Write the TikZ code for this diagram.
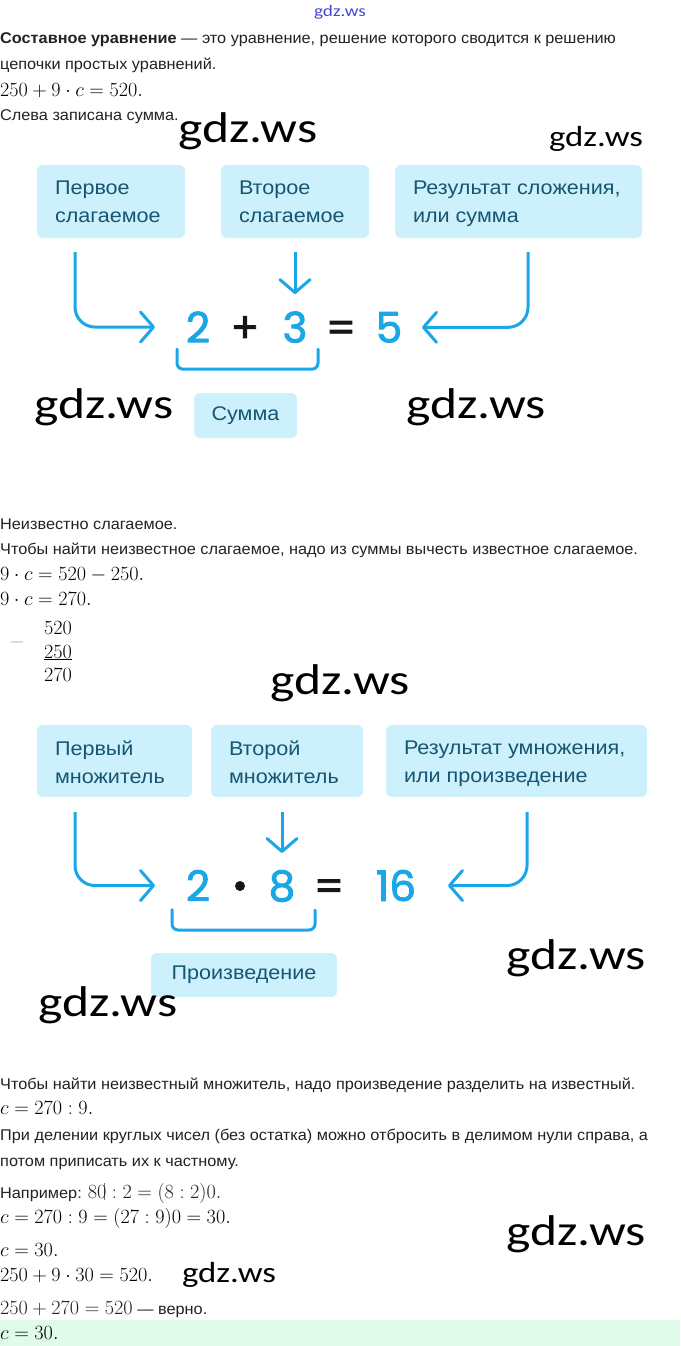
\RequirePackage{fix-cm}
\documentclass[tikz,border=0pt]{standalone}
\usepackage[no-math]{fontspec}
\setmainfont{Liberation Sans}[FakeStretch=1.05]
\newfontfamily\boxfont{Liberation Sans}[FakeStretch=1.09]
\newfontfamily\numfont{Poppins}[FakeBold=2.2]
\newfontfamily\wmfont{Carlito}[FakeStretch=1.2]
\usetikzlibrary{arrows.meta,calc}
\definecolor{boxfill}{RGB}{204,241,252}
\definecolor{boxtext}{RGB}{22,86,112}
\definecolor{accent}{RGB}{27,167,231}
\definecolor{bodytext}{RGB}{34,34,34}
\definecolor{opcol}{RGB}{22,22,22}
\definecolor{okband}{RGB}{224,251,234}
\definecolor{linkblue}{RGB}{70,70,210}
\newcommand\bodyfs{\fontsize{15.5}{18}\selectfont}
\newcommand\mathfs{\fontsize{20.2}{24}\selectfont}
\newcommand\boxfs{\boxfont\fontsize{19.8}{28}\selectfont}
\newcommand\numfs{\numfont\fontsize{42}{46}\selectfont}
\newcommand\wmbig{\wmfont\fontsize{43}{48}\selectfont}
\newcommand\wmsmall{\wmfont\fontsize{29}{32}\selectfont}
\newcommand\wmtiny{\wmfont\fontsize{16}{18}\selectfont}
\tikzset{
  txt/.style={anchor=base west, inner sep=0pt, text=bodytext, font=\bodyfs},
  mth/.style={anchor=base west, inner sep=0pt, text=black, font=\mathfs},
  lbox/.style={fill=boxfill, rounded corners=6pt, inner sep=0pt},
  lbl/.style={anchor=north west, align=left, inner sep=0pt, font=\boxfs, text=boxtext},
  capbox/.style={fill=boxfill, rounded corners=6pt, inner sep=0pt, font=\boxfs, text=boxtext},
  num/.style={anchor=base, text=accent, font=\numfs, inner sep=0pt},
  opn/.style={anchor=base, text=opcol, font=\numfs, inner sep=0pt},
  arr/.style={draw=accent, line width=3pt, rounded corners=20pt,
    -{Straight Barb[length=13pt,width=30pt,round]}},
  brk/.style={draw=accent, line width=3pt, rounded corners=6pt, line cap=round},
  wmb/.style={font=\wmbig, text=black, inner sep=0pt},
  wms/.style={font=\wmsmall, text=black, inner sep=0pt},
}
\begin{document}
\begin{tikzpicture}[x=1pt,y=-1pt]
\useasboundingbox (0,0) rectangle (680,1346);
\fill[white] (0,0) rectangle (680,1346);
\fill[okband] (0,1320) rectangle (680,1346);

% top link
\node[font=\wmtiny, text=linkblue, inner sep=0pt] (wtop) at (340,12) {gdz.ws};

% ---------- section 1 text
\node[txt] (t1) at (0,44) {\textbf{Составное уравнение} — это уравнение, решение которого сводится к решению};
\node[txt] (t2) at (0,70) {цепочки простых уравнений.};
\node[mth] (m1) at (0,96) {$250+9\cdot c=520.$};
\node[txt] (t3) at (0,120) {Слева записана сумма.};

% ---------- diagram 1
\node[lbox, minimum width=148pt, minimum height=73pt] (b1) at (111,201.5) {};
\node[lbox, minimum width=148pt, minimum height=73pt] (b2) at (295,201.5) {};
\node[lbox, minimum width=247pt, minimum height=73pt] (b3) at (518.5,201.5) {};
\node[lbl] (b1t) at ($(b1.north west)+(18,16)$) {Первое\\слагаемое};
\node[lbl] (b2t) at ($(b2.north west)+(18,16)$) {Второе\\слагаемое};
\node[lbl] (b3t) at ($(b3.north west)+(18,16)$) {Результат сложения,\\или сумма};

\node[num] (n2) at (198,342.5) {2};
\node[opn] (np) at (245,342.5) {+};
\node[num] (n3) at (295,342.5) {3};
\node[opn] (ne) at (341,342.5) {=};
\node[num] (n5) at (389,342.5) {5};

\coordinate (a1) at ($(b1.south)+(-36,14)$);
\coordinate (a2) at ($(b2.south)+(0,14)$);
\coordinate (a3) at ($(b3.south)+(9.5,14)$);
\draw[arr] (a1) |- ($(n2.center)+(-43,0)$);
\draw[arr] (a2) -- ($(n3.center)+(0,-33)$);
\draw[arr] (a3) |- ($(n5.center)+(33,0)$);
\draw[brk] ($(n2.center)+(-21,22)$) |- ($(n3.center)+(23,42)$) -- ($(n3.center)+(23,22)$);
\node[capbox, minimum width=103pt, minimum height=45pt] (sum) at (245.5,415.5) {Сумма};

% ---------- section 2 text
\node[txt] (t4) at (0,529) {Неизвестно слагаемое.};
\node[txt] (t5) at (0,554) {Чтобы найти неизвестное слагаемое, надо из суммы вычесть известное слагаемое.};
\node[mth] (m2) at (0,580) {$9\cdot c=520-250.$};
\node[mth] (m3) at (0,605) {$9\cdot c=270.$};
\node[mth, anchor=base east] (c1) at (72,634) {$520$};
\node[mth, anchor=base east] (c2) at (72,658) {$\underline{250}$};
\node[mth, anchor=base east] (c3) at (72,681) {$270$};
\node[mth, anchor=center, text=black!35] (cm) at (17,642) {$-$};

% ---------- diagram 2
\node[lbox, minimum width=155pt, minimum height=72pt] (d1) at (114.5,761) {};
\node[lbox, minimum width=152pt, minimum height=72pt] (d2) at (287,761) {};
\node[lbox, minimum width=261pt, minimum height=72pt] (d3) at (516.5,761) {};
\node[lbl] (d1t) at ($(d1.north west)+(18,16)$) {Первый\\множитель};
\node[lbl] (d2t) at ($(d2.north west)+(18,16)$) {Второй\\множитель};
\node[lbl] (d3t) at ($(d3.north west)+(18,16)$) {Результат умножения,\\или произведение};

\node[num] (k2) at (198,901) {2};
\node[circle, fill=opcol, inner sep=0pt, minimum size=10pt] (kd) at (240,886) {};
\node[num] (k8) at (282,901) {8};
\node[opn] (ke) at (329,901) {=};
\node[num] (k16) at (396,901) {16};

\coordinate (e1) at ($(d1.south)+(-39.5,15)$);
\coordinate (e2) at ($(d2.south)+(-5,15)$);
\coordinate (e3) at ($(d3.south)+(10.5,15)$);
\draw[arr] (e1) |- ($(k2.center)+(-43,0)$);
\draw[arr] (e2) -- ($(k8.center)+(0,-33)$);
\draw[arr] (e3) |- ($(k16.center)+(52,0)$);
\draw[brk] ($(k2.center)+(-26,24)$) |- ($(k8.center)+(33,44)$) -- ($(k8.center)+(33,24)$);
\node[capbox, minimum width=186pt, minimum height=44pt] (prod) at (244,975) {Произведение};

% ---------- section 3 text
\node[txt] (t6) at (0,1089) {Чтобы найти неизвестный множитель, надо произведение разделить на известный.};
\node[mth] (m4) at (0,1114) {$c=270:9.$};
\node[txt] (t7) at (0,1140) {При делении круглых чисел (без остатка) можно отбросить в делимом нули справа, а};
\node[txt] (t8) at (0,1166) {потом приписать их к частному.};
\node[txt] (t9) at (0,1198) {Например: {\mathfs$8\rlap{\kern0.32em\textcolor{black!55}{\vrule width 0.6pt height 0.74em depth 0.08em}}0:2=(8:2)0.$}};
\node[mth] (m5) at (0,1223) {$c=270:9=(27:9)0=30.$};
\node[mth] (m6) at (0,1256) {$c=30.$};
\node[mth] (m7) at (0,1281) {$250+9\cdot30=520.$};
\node[txt] (t10) at (0,1314) {{\mathfs$250+270=520$} — верно.};
\node[mth] (m8) at (0,1339) {$c=30.$};

% ---------- watermarks
\node[wmb] (w1) at (248,131) {gdz.ws};
\node[wms] (w2) at (596,139) {gdz.ws};
\node[wmb] (w3) at (104,407) {gdz.ws};
\node[wmb] (w4) at (476,407) {gdz.ws};
\node[wmb] (w5) at (340,683) {gdz.ws};
\node[wmb] (w6) at (576,958) {gdz.ws};
\node[wmb] (w7) at (108,1005) {gdz.ws};
\node[wmb] (w8) at (576,1234) {gdz.ws};
\node[wms] (w9) at (229,1275) {gdz.ws};
\end{tikzpicture}
\end{document}
